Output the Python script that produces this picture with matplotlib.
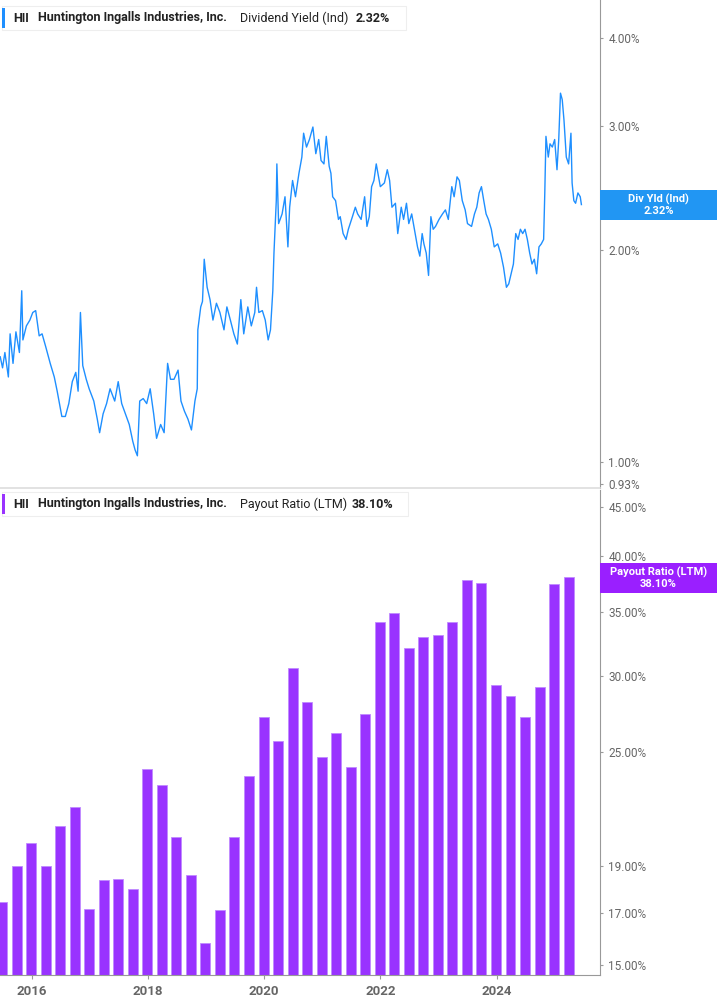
import matplotlib
matplotlib.use("Agg")
import matplotlib.pyplot as plt
from matplotlib.patches import Rectangle
from matplotlib.ticker import FixedLocator, NullLocator, FuncFormatter

plt.rcParams["font.family"] = "Roboto"

# dividend yield (ind), decimal year -> %
yld_dates = [2015.46, 2015.50, 2015.54, 2015.60, 2015.63, 2015.68, 2015.73, 2015.79, 2015.83, 2015.85,
             2015.91, 2015.97, 2016.02, 2016.07, 2016.13, 2016.18, 2016.24, 2016.32, 2016.39, 2016.44,
             2016.52, 2016.58, 2016.64, 2016.70, 2016.76, 2016.80, 2016.84, 2016.88, 2016.94, 2016.99,
             2017.07, 2017.13, 2017.17, 2017.23, 2017.29, 2017.35, 2017.43, 2017.49, 2017.55, 2017.63,
             2017.68, 2017.74, 2017.78, 2017.82, 2017.86, 2017.92, 2017.98, 2018.04, 2018.10, 2018.15,
             2018.22, 2018.28, 2018.34, 2018.39, 2018.45, 2018.52, 2018.57, 2018.63, 2018.69, 2018.75,
             2018.81, 2018.85, 2018.86, 2018.91, 2018.94, 2018.97, 2019.02, 2019.07, 2019.12, 2019.18,
             2019.24, 2019.31, 2019.36, 2019.42, 2019.48, 2019.54, 2019.60, 2019.65, 2019.72, 2019.78,
             2019.84, 2019.87, 2019.91, 2019.97, 2020.02, 2020.07, 2020.11, 2020.15, 2020.17, 2020.21,
             2020.22, 2020.25, 2020.31, 2020.36, 2020.41, 2020.44, 2020.49, 2020.54, 2020.60, 2020.65,
             2020.68, 2020.73, 2020.78, 2020.84, 2020.89, 2020.94, 2020.98, 2021.03, 2021.07, 2021.12,
             2021.15, 2021.18, 2021.23, 2021.28, 2021.31, 2021.36, 2021.41, 2021.45, 2021.52, 2021.57,
             2021.61, 2021.67, 2021.73, 2021.77, 2021.81, 2021.85, 2021.89, 2021.93, 2021.97, 2022.00,
             2022.07, 2022.12, 2022.16, 2022.20, 2022.26, 2022.30, 2022.36, 2022.40, 2022.45, 2022.49,
             2022.54, 2022.60, 2022.64, 2022.68, 2022.72, 2022.75, 2022.79, 2022.83, 2022.87, 2022.91,
             2022.95, 2023.01, 2023.07, 2023.12, 2023.17, 2023.23, 2023.27, 2023.32, 2023.36, 2023.41,
             2023.46, 2023.50, 2023.57, 2023.62, 2023.66, 2023.70, 2023.74, 2023.78, 2023.82, 2023.86,
             2023.91, 2023.96, 2024.02, 2024.07, 2024.12, 2024.17, 2024.21, 2024.25, 2024.29, 2024.33,
             2024.37, 2024.41, 2024.45, 2024.49, 2024.53, 2024.57, 2024.61, 2024.65, 2024.69, 2024.73,
             2024.77, 2024.81, 2024.83, 2024.85, 2024.89, 2024.92, 2024.96, 2025.00, 2025.04, 2025.07,
             2025.10, 2025.13, 2025.16, 2025.20, 2025.24, 2025.28, 2025.30, 2025.33, 2025.36, 2025.40,
             2025.44, 2025.46]
yld_vals = [1.41, 1.36, 1.43, 1.32, 1.52, 1.38, 1.53, 1.43, 1.75, 1.49,
            1.56, 1.59, 1.63, 1.64, 1.51, 1.52, 1.46, 1.38, 1.32, 1.26,
            1.16, 1.16, 1.21, 1.30, 1.34, 1.26, 1.63, 1.37, 1.31, 1.27,
            1.22, 1.15, 1.10, 1.17, 1.21, 1.27, 1.22, 1.30, 1.21, 1.16,
            1.13, 1.07, 1.04, 1.02, 1.22, 1.23, 1.21, 1.27, 1.17, 1.08,
            1.13, 1.10, 1.38, 1.31, 1.31, 1.35, 1.22, 1.18, 1.15, 1.11,
            1.22, 1.27, 1.54, 1.66, 1.69, 1.94, 1.77, 1.70, 1.59, 1.68,
            1.63, 1.54, 1.66, 1.59, 1.52, 1.47, 1.70, 1.52, 1.66, 1.56,
            1.63, 1.77, 1.63, 1.64, 1.59, 1.49, 1.54, 1.75, 1.98, 2.35,
            2.65, 2.18, 2.25, 2.38, 2.02, 2.30, 2.51, 2.38, 2.57, 2.71,
            2.93, 2.80, 2.87, 2.99, 2.74, 2.87, 2.68, 2.65, 2.90, 2.63,
            2.57, 2.38, 2.35, 2.21, 2.23, 2.11, 2.07, 2.14, 2.23, 2.30,
            2.25, 2.21, 2.38, 2.16, 2.23, 2.46, 2.51, 2.65, 2.54, 2.46,
            2.49, 2.60, 2.51, 2.30, 2.33, 2.11, 2.30, 2.21, 2.33, 2.18,
            2.25, 2.11, 2.02, 1.96, 2.11, 2.04, 1.98, 1.84, 2.23, 2.14,
            2.16, 2.21, 2.25, 2.28, 2.21, 2.46, 2.38, 2.54, 2.51, 2.35,
            2.28, 2.18, 2.16, 2.25, 2.30, 2.41, 2.46, 2.35, 2.25, 2.21,
            2.14, 2.02, 2.04, 1.98, 1.89, 1.77, 1.79, 1.85, 1.91, 2.11,
            2.07, 2.14, 2.11, 2.14, 2.07, 1.98, 1.91, 1.94, 1.85, 2.02,
            2.04, 2.07, 2.41, 2.90, 2.71, 2.83, 2.80, 2.87, 2.60, 2.87,
            3.34, 3.27, 3.06, 2.71, 2.65, 2.93, 2.49, 2.35, 2.33, 2.41,
            2.38, 2.32]

# payout ratio (LTM), quarterly from mid-2015
payout_dates = [2015.49 + 0.25 * i for i in range(40)]
payout_vals = [17.45, 19.0, 20.1, 19.0, 20.95, 21.9, 17.16, 18.4, 18.45, 18.0,
               24.0, 23.1, 20.4, 18.6, 15.8, 17.1, 20.4, 23.6, 27.2, 25.7,
               30.6, 28.2, 24.7, 26.2, 24.1, 27.4, 34.2, 34.9, 32.1, 32.95,
               33.1, 34.2, 37.8, 37.5, 29.4, 28.6, 27.2, 29.2, 37.4, 38.1]

yld_ticks = [0.93, 1.0, 2.0, 3.0, 4.0]
payout_ticks = [15, 17, 19, 25, 30, 35, 40, 45]
year_ticks = [2016, 2018, 2020, 2022, 2024]

BLUE = "#1e8fff"
PURPLE = "#9933ff"
GRAY = "#666666"

W, H = 717, 1005
fig = plt.figure(figsize=(W / 100, H / 100), dpi=100)
ax1 = fig.add_axes([0, 1 - 488 / H, 600 / W, 488 / H])
ax2 = fig.add_axes([0, 1 - 975 / H, 600 / W, 485 / H])

for ax in (ax1, ax2):
    ax.set_xlim(2015.456, 2025.78)
    ax.set_yscale("log")
    for s in ("top", "left", "bottom"):
        ax.spines[s].set_visible(False)
    ax.spines["right"].set_color("#999999")
    ax.yaxis.tick_right()
    ax.yaxis.set_minor_locator(NullLocator())
    ax.tick_params(axis="y", length=2, color="#999999", labelcolor=GRAY, labelsize=8.5, pad=4)

ax1.plot(yld_dates, yld_vals, color=BLUE, lw=1.0)
ax1.set_ylim(0.918, 4.53)
ax1.yaxis.set_major_locator(FixedLocator(yld_ticks))
ax1.yaxis.set_major_formatter(FuncFormatter(lambda v, p: f"{v:.2f}%"))
ax1.set_xticks([])

ax2.bar(payout_dates, payout_vals, width=0.172, color=PURPLE, edgecolor="#c08aff", linewidth=0.6)
ax2.set_ylim(14.64, 46.9)
ax2.yaxis.set_major_locator(FixedLocator(payout_ticks))
ax2.yaxis.set_major_formatter(FuncFormatter(lambda v, p: f"{v:.2f}%"))
ax2.spines["bottom"].set_visible(True)
ax2.spines["bottom"].set_color("#999999")
ax2.set_xticks(year_ticks)
ax2.set_xticklabels([str(y) for y in year_ticks])
ax2.tick_params(axis="x", length=3, color="#999999", labelcolor=GRAY, labelsize=9.5, pad=4)
for lab in ax2.get_xticklabels():
    lab.set_fontweight("bold")

# separator between panels
fig.add_artist(plt.Line2D([0, 600 / W], [1 - 488.5 / H] * 2, color="#dddddd", lw=1.2))


def legend_box(y_top, color, label, value, value_x, width):
    y0 = 1 - (y_top + 24) / H
    fig.add_artist(Rectangle((2 / W, y0), width / W, 24 / H, transform=fig.transFigure,
                             facecolor="white", edgecolor="#eeeeee", lw=0.8))
    fig.add_artist(Rectangle((2 / W, y0 + 2 / H), 3 / W, 20 / H, transform=fig.transFigure,
                             facecolor=color, edgecolor="none"))
    yc = y0 + 12 / H
    fig.text(13 / W, yc, "HII", fontsize=9, fontweight="bold", color="#222222", va="center")
    fig.text(38 / W, yc, "Huntington Ingalls Industries, Inc.", fontsize=9, fontweight="bold",
             color="#222222", va="center")
    fig.text(240 / W, yc, label, fontsize=9, color="#222222", va="center")
    fig.text(value_x / W, yc, value, fontsize=9, fontweight="bold", color="#222222", va="center")


legend_box(6, BLUE, "Dividend Yield (Ind)", f"{yld_vals[-1]:.2f}%", 356, 404)
legend_box(492, PURPLE, "Payout Ratio (LTM)", f"{payout_vals[-1]:.2f}%", 352, 406)


def value_tag(y_top, color, text):
    fig.add_artist(Rectangle((600 / W, 1 - (y_top + 30) / H), 117 / W, 30 / H,
                             transform=fig.transFigure, facecolor=color, edgecolor="none"))
    fig.text(658.5 / W, 1 - (y_top + 15) / H, text, ha="center", va="center", color="white",
             fontsize=8, fontweight="bold", linespacing=1.1)


value_tag(190, "#2196f3", f"Div Yld (Ind)\n{yld_vals[-1]:.2f}%")
value_tag(563, "#9a1fff", f"Payout Ratio (LTM)\n{payout_vals[-1]:.2f}%")

fig.savefig("out.png", dpi=100, facecolor="white")
